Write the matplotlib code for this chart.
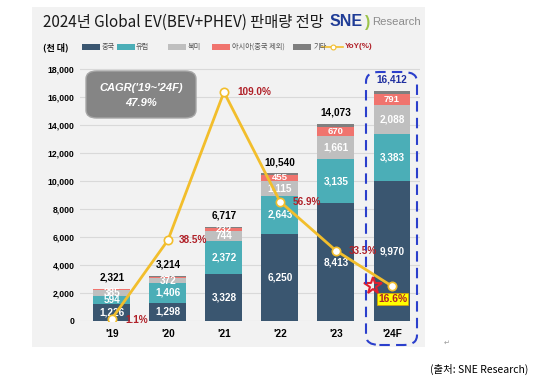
import matplotlib.pyplot as plt
from matplotlib.patches import Rectangle, FancyBboxPatch
from matplotlib.lines import Line2D

years = ["'19", "'20", "'21", "'22", "'23", "'24F"]
china = [1226, 1298, 3328, 6250, 8413, 9970]
europe = [594, 1406, 2372, 2643, 3135, 3383]
namerica = [385, 372, 744, 1115, 1661, 2088]
asia = [80, 100, 232, 455, 670, 791]
other = [36, 38, 41, 77, 194, 180]
totals = [2321, 3214, 6717, 10540, 14073, 16412]
yoy = [1.1, 38.5, 109.0, 56.9, 33.5, 16.6]

series = [('중국', china, '#3A5670'), ('유럽', europe, '#4BAEB7'),
          ('북미', namerica, '#BFBFBF'), ('아시아(중국 제외)', asia, '#F0746E'),
          ('기타', other, '#7F7F7F')]

KR = ['Noto Sans CJK KR', 'DejaVu Sans']
NUM = 'Liberation Sans'
W, H = 536, 389


def fx(px):
    return px / W


def fy(py):
    return 1 - py / H


fig = plt.figure(figsize=(W / 100, H / 100), dpi=100)
fig.patches.append(Rectangle((fx(32), fy(347)), fx(425) - fx(32), fy(7) - fy(347),
                             transform=fig.transFigure, facecolor='#F2F2F2',
                             edgecolor='none', zorder=-5))

ax = fig.add_axes([fx(80), fy(321), fx(420) - fx(80), (321 - 64.8) / H])
ax.patch.set_alpha(0)
x = list(range(len(years)))
bottom = [0] * len(years)
for i, (name, vals, col) in enumerate(series):
    ax.bar(x, vals, 0.66, bottom=bottom, color=col, zorder=2)
    for j in x:
        show = i < 3 or (i == 3 and j >= 2)
        if show:
            ax.text(j, bottom[j] + vals[j] / 2, f'{vals[j]:,}', ha='center', va='center',
                    color='white', fontsize=7.2 if i < 3 else 6.8, fontweight='bold',
                    family=NUM, zorder=3)
    bottom = [b + v for b, v in zip(bottom, vals)]

for j in x:
    ax.text(j, totals[j] + 450, f'{totals[j]:,}', ha='center', va='bottom',
            fontsize=7.2, fontweight='bold', family=NUM,
            color='#1F2FA0' if j == 5 else 'black')

ax.set_xlim(-0.57, 5.5)
ax.set_ylim(0, 18300)
ax.set_yticks(range(0, 18001, 2000))
ax.set_yticklabels([f'{v:,}' for v in range(0, 18001, 2000)], fontsize=6.2,
                   fontweight='bold', family=NUM)
ax.set_xticks(x)
ax.set_xticklabels(years, fontsize=7.2, fontweight='bold', family=NUM)
ax.tick_params(length=0)
ax.tick_params(axis='y', pad=4)
ax.tick_params(axis='x', pad=6)
ax.yaxis.grid(True, color='#D9D9D9', lw=0.8, zorder=0)
ax.set_axisbelow(True)
for s in ax.spines.values():
    s.set_visible(False)

ax2 = ax.twinx()
ax2.set_ylim(0, 122)
ax2.axis('off')
ax2.plot(x, yoy, color='#F2BE2C', lw=2, marker='o', ms=6, mfc='white',
         mec='#F2BE2C', mew=1.2, zorder=5)
offsets = [(10, -1), (8, 0), (10, 0), (9, 0), (9, 0)]
for j in range(5):
    ax2.annotate(f'{yoy[j]:.1f}%', (j, yoy[j]), xytext=offsets[j], textcoords='offset points',
                 ha='left', va='center', fontsize=7.2, fontweight='bold', family=NUM,
                 color='#B02028', zorder=6)
ax2.annotate(f'{yoy[5]:.1f}%', (5, yoy[5]), xytext=(-10, -9), textcoords='offset points',
             ha='left', va='center', fontsize=7.4, fontweight='bold', family=NUM,
             color='#B02028', zorder=6,
             bbox=dict(boxstyle='square,pad=0.1', fc='#FFFF00', ec='#E0A000', lw=0.5))
ax2.plot(4.66, yoy[5], marker='*', ms=13, mfc='none', mec='#E02030', mew=1.5, zorder=6)

# CAGR box
fig.patches.append(FancyBboxPatch((fx(86), fy(118)), fx(196) - fx(86), fy(71) - fy(118),
                                  boxstyle='round,pad=0,rounding_size=0.02',
                                  transform=fig.transFigure, fc='#858585', ec='#A6A6A6',
                                  lw=1, zorder=3))
fig.text(fx(141), fy(88), "CAGR('19~'24F)", ha='center', va='center', color='white',
         fontsize=8, fontweight='bold', style='italic', family=NUM, zorder=4)
fig.text(fx(141), fy(103), '47.9%', ha='center', va='center', color='white',
         fontsize=8, fontweight='bold', style='italic', family=NUM, zorder=4)

# dashed box round '24F
fig.patches.append(FancyBboxPatch((fx(366), fy(345)), fx(417) - fx(366), fy(72) - fy(345),
                                  boxstyle='round,pad=0,rounding_size=0.025',
                                  transform=fig.transFigure, fc='none', ec='#2B3FCC',
                                  lw=1.5, ls=(0, (5, 3)), zorder=7))

# title and logo
fig.text(fx(43), fy(22), '2024년 Global EV(BEV+PHEV) 판매량 전망', ha='left', va='center',
         fontsize=11, family=KR, color='#1A1A1A')
fig.text(fx(330), fy(22), 'SNE', ha='left', va='center', fontsize=11.5,
         fontweight='bold', family=NUM, color='#1F3C96')
fig.text(fx(365), fy(22), ')', ha='left', va='center', fontsize=11.5,
         fontweight='bold', family=NUM, color='#9BC34A')
fig.text(fx(372), fy(22), 'Research', ha='left', va='center', fontsize=8.2,
         family=NUM, color='#8C8C8C')

# legend row
fig.text(fx(43), fy(47), '(천 대)', ha='left', va='center', fontsize=6.5,
         fontweight='bold', family=KR)
leg_x = [(82, 102), (117, 136), (168, 188), (212, 232), (293, 314)]
for (name, vals, col), (px0, tx) in zip(series, leg_x):
    fig.patches.append(Rectangle((fx(px0), fy(49.5)), fx(18), 5 / H, transform=fig.transFigure,
                                 fc=col, ec='none', zorder=3))
    fig.text(fx(tx), fy(47), name, ha='left', va='center', fontsize=5.2, family=KR,
             color='#555555')
fig.lines.append(Line2D([fx(322), fx(343)], [fy(47), fy(47)], transform=fig.transFigure,
                        color='#F2BE2C', lw=1.2))
fig.lines.append(Line2D([fx(332.5)], [fy(47)], transform=fig.transFigure, color='#F2BE2C',
                        marker='o', ms=3.5, mfc='white', mec='#F2BE2C', mew=0.8))
fig.text(fx(345), fy(47), 'YoY(%)', ha='left', va='center', fontsize=5.8,
         fontweight='bold', family=NUM, color='#B02028')

# source
fig.text(fx(528), fy(369), '(출처: SNE Research)', ha='right', va='center', fontsize=7.5,
         family=KR, color='black')
fig.text(fx(447), fy(343), '↵', ha='center', va='center', fontsize=5, color='#999999')

fig.savefig('out.png', dpi=100)
